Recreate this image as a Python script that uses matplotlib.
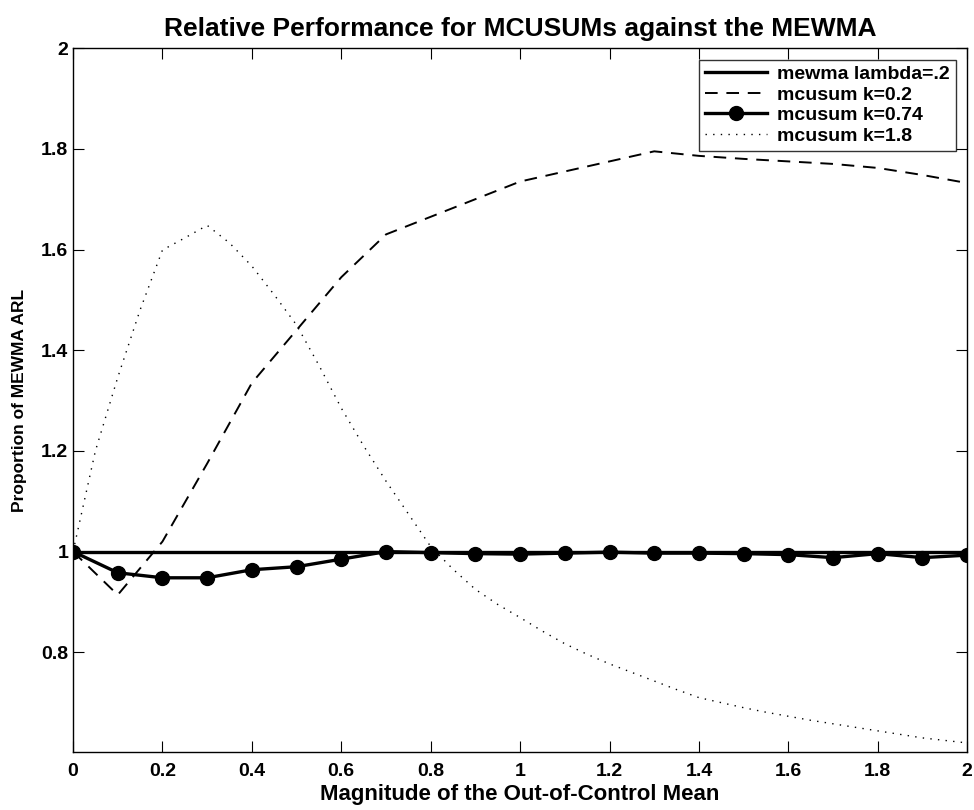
import numpy as np
import matplotlib
matplotlib.use("Agg")
import matplotlib.pyplot as plt

plt.rcParams['font.family'] = ['Liberation Sans', 'DejaVu Sans']
plt.rcParams['font.weight'] = 'bold'

# shift sizes (0:0.1:2)
shift = np.round(np.arange(0, 2.01, 0.1), 2)

# mewma reference
mewma = [1.0] * len(shift)

# mcusum k=0.2
mcusum_02 = [1.000, 0.914, 1.020, 1.175, 1.335, 1.440, 1.545, 1.630, 1.665, 1.700,
             1.735, 1.755, 1.775, 1.795, 1.786, 1.780, 1.775, 1.770, 1.762, 1.748, 1.732]

# mcusum k=0.74
mcusum_074 = [1.000, 0.958, 0.948, 0.948, 0.964, 0.970, 0.985, 1.000, 0.998, 0.996,
              0.995, 0.997, 0.999, 0.997, 0.997, 0.996, 0.994, 0.988, 0.996, 0.988, 0.993]

# mcusum k=1.8 (finer grid 0:0.05:2)
shift_fine = np.round(np.arange(0, 2.001, 0.05), 2)
mcusum_18 = [1.000, 1.200, 1.346, 1.480, 1.599, 1.623, 1.648, 1.613, 1.567, 1.510,
             1.450, 1.370, 1.285, 1.210, 1.140, 1.075, 1.010, 0.965, 0.925, 0.895,
             0.869, 0.842, 0.817, 0.796, 0.777, 0.760, 0.743, 0.726, 0.710, 0.700,
             0.690, 0.681, 0.673, 0.665, 0.658, 0.651, 0.644, 0.637, 0.630, 0.625, 0.620]

fig = plt.figure(figsize=(9.74, 8.10), dpi=100)
ax = fig.add_axes([0.075, 0.0716, 0.918, 0.869])

ax.plot(shift, mewma, color='black', linewidth=2.4, label='mewma lambda=.2')
ax.plot(shift, mcusum_02, color='black', linewidth=1.4, linestyle=(0, (6.5, 4.5)), label='mcusum k=0.2')
ax.plot(shift, mcusum_074, color='black', linewidth=2.4, marker='o', markersize=10, label='mcusum k=0.74')
ax.plot(shift_fine, mcusum_18, color='black', linewidth=1.0, linestyle=(0, (1, 4.5)), label='mcusum k=1.8')

ax.set_xlim(0, 2)
ax.set_ylim(0.602, 2)
ax.set_xticks(np.arange(0, 2.01, 0.2))
ax.set_xticklabels(['0', '0.2', '0.4', '0.6', '0.8', '1', '1.2', '1.4', '1.6', '1.8', '2'])
ax.set_yticks([0.8, 1, 1.2, 1.4, 1.6, 1.8, 2])
ax.set_yticklabels(['0.8', '1', '1.2', '1.4', '1.6', '1.8', '2'])
ax.tick_params(direction='in', top=True, right=True, length=8, width=0.8, labelsize=14)
ax.tick_params(axis='x', pad=8)
for s in ax.spines.values():
    s.set_linewidth(1.0)

ax.set_title('Relative Performance for MCUSUMs against the MEWMA', fontsize=19, fontweight='bold', pad=9)
ax.set_xlabel('Magnitude of the Out-of-Control Mean', fontsize=16, fontweight='bold', labelpad=3)
ax.set_ylabel('Proportion of MEWMA ARL', fontsize=12.5, fontweight='bold', labelpad=10)

leg = ax.legend(loc='upper right', fontsize=14, frameon=True, fancybox=False, edgecolor='black',
                borderpad=0.3, labelspacing=0.15, handlelength=3.2, handletextpad=0.5,
                borderaxespad=0.6)
leg.get_frame().set_linewidth(1.0)

fig.savefig('out.png', dpi=100)
